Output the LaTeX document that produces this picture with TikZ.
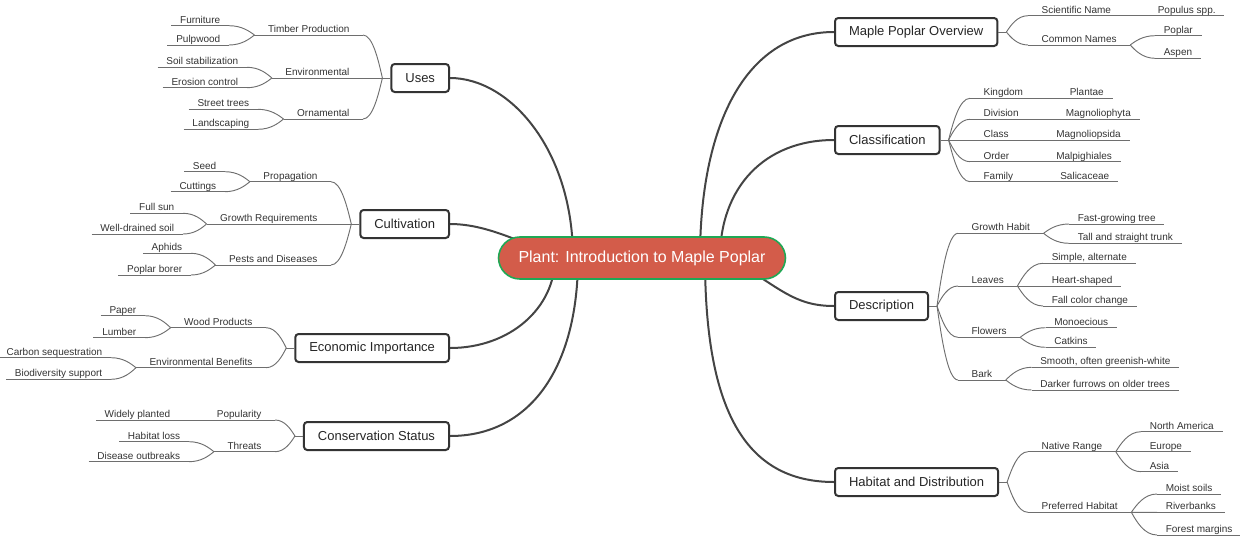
\documentclass[tikz,border=0pt]{standalone}
\usepackage{fontspec}
\setmainfont{Liberation Sans}
\usepackage{xcolor}
\usetikzlibrary{positioning, backgrounds, calc}
\definecolor{hubfill}{HTML}{D35C4A}
\definecolor{hubline}{HTML}{1FA855}
\definecolor{boxline}{HTML}{333333}
\definecolor{boughc}{HTML}{444444}
\definecolor{twigc}{HTML}{6E6E6E}
\definecolor{inkc}{HTML}{333333}
\tikzstyle{twig} = [draw=twigc, line width=0.7pt]
\tikzstyle{bough} = [draw=boughc, line width=1.5pt]
\tikzstyle{hub} = [rectangle, rounded corners=16pt, minimum height=31.5pt, inner xsep=15pt, draw=hubline, line width=1.2pt, fill=hubfill, text=white, font=\fontsize{12}{14}\selectfont]
\tikzstyle{topic} = [rectangle, rounded corners=2.5pt, minimum height=21pt, inner xsep=10.5pt, draw=boxline, line width=1.5pt, fill=white, text=black!85, font=\fontsize{9.75}{12}\selectfont]
\tikzstyle{lbl} = [inner ysep=0.2pt, text depth=1.6pt, text=inkc, font=\fontsize{7.5}{9}\selectfont, append after command={(\tikzlastnode.south west) edge[twig] (\tikzlastnode.south east)}]
\tikzstyle{subL} = [lbl, anchor=south east, inner xsep=10pt]
\tikzstyle{subR} = [lbl, anchor=south west, inner xsep=10pt]
\tikzstyle{leafL} = [lbl, anchor=south east, inner xsep=6.4pt]
\tikzstyle{leafR} = [lbl, anchor=south west, inner xsep=6.4pt]
\tikzstyle{sprout} = [to path={let \p1=(\tikztostart), \p2=(\tikztotarget) in .. controls (0.8*\x1+0.2*\x2, 0.6*\y1+0.4*\y2) and (0.5*\x1+0.5*\x2, \y2) .. (\tikztotarget)}]

\begin{document}
\begin{tikzpicture}[x=0.75pt, y=0.75pt]
    \useasboundingbox (0,0) rectangle (1240,-536);

    % Central topic
    \node (c) [hub] at (642,-258) {Plant: Introduction to Maple Poplar};

    % Main topics
    \node (uses) [topic, anchor=east] at (450,-78) {Uses};
    \node (cult) [topic, anchor=east] at (450,-224) {Cultivation};
    \node (econ) [topic, anchor=east] at (450,-348) {Economic Importance};
    \node (cons) [topic, anchor=east] at (450,-436) {Conservation Status};
    \node (over) [topic, anchor=west] at (834,-32) {Maple Poplar Overview};
    \node (clas) [topic, anchor=west] at (834,-140) {Classification};
    \node (desc) [topic, anchor=west] at (834,-306) {Description};
    \node (habi) [topic, anchor=west] at (834,-482) {Habitat and Distribution};

    % Junctions
    \coordinate (usesJ) at ($(uses.west)+(-8,0)$);
    \coordinate (cultJ) at ($(cult.west)+(-8,0)$);
    \coordinate (econJ) at ($(econ.west)+(-8,0)$);
    \coordinate (consJ) at ($(cons.west)+(-8,0)$);
    \coordinate (overJ) at ($(over.east)+(8,0)$);
    \coordinate (clasJ) at ($(clas.east)+(8,0)$);
    \coordinate (descJ) at ($(desc.east)+(8,0)$);
    \coordinate (habiJ) at ($(habi.east)+(8,0)$);

    % Uses
    \node (timber) [subL] at (363,-35) {Timber Production};
    \node (envir) [subL] at (363,-78) {Environmental};
    \node (ornam) [subL] at (363,-119) {Ornamental};
    \node (furn) [leafL] at (229,-25.7) {Furniture};
    \node (pulp) [leafL] at (229,-45) {Pulpwood};
    \node (soil) [leafL] at (247,-67.3) {Soil stabilization};
    \node (eros) [leafL] at (247,-87.7) {Erosion control};
    \node (street) [leafL] at (258,-109.3) {Street trees};
    \node (landsc) [leafL] at (258,-129.3) {Landscaping};

    % Cultivation
    \node (prop) [subL] at (331,-181.7) {Propagation};
    \node (growreq) [subL] at (331,-224) {Growth Requirements};
    \node (pests) [subL] at (331,-265) {Pests and Diseases};
    \node (seed) [leafL] at (225,-171.7) {Seed};
    \node (cutt) [leafL] at (225,-191.7) {Cuttings};
    \node (fullsun) [leafL] at (183,-213.3) {Full sun};
    \node (welldr) [leafL] at (183,-234) {Well-drained soil};
    \node (aphids) [leafL] at (191,-253.3) {Aphids};
    \node (borer) [leafL] at (191,-275) {Poplar borer};

    % Economic Importance
    \node (wood) [subL] at (266,-327.7) {Wood Products};
    \node (envben) [subL] at (266,-367.7) {Environmental Benefits};
    \node (paper) [leafL] at (145,-315.7) {Paper};
    \node (lumber) [leafL] at (145,-337.7) {Lumber};
    \node (carbon) [leafL] at (111,-357.7) {Carbon sequestration};
    \node (biodiv) [leafL] at (111,-379.3) {Biodiversity support};

    % Conservation Status
    \node (popul) [subL] at (275,-420) {Popularity};
    \node (threats) [subL] at (275,-451.7) {Threats};
    \node (widely) [leafL] at (179,-420) {Widely planted};
    \node (habloss) [leafL] at (189,-441.7) {Habitat loss};
    \node (disease) [leafL] at (189,-461.7) {Disease outbreaks};

    % Maple Poplar Overview
    \node (sciname) [subR] at (1028,-15.7) {Scientific Name};
    \node (comname) [subR] at (1028,-45) {Common Names};
    \node (populus) [leafR] at (1149,-15.7) {Populus spp.};
    \node (poplar) [leafR] at (1155,-35.7) {Poplar};
    \node (aspen) [leafR] at (1155,-58.3) {Aspen};

    % Classification
    \node (kingdom) [subR] at (970,-98.3) {Kingdom};
    \node (division) [subR] at (970,-119.3) {Division};
    \node (class) [subR] at (970,-140) {Class};
    \node (order) [subR] at (970,-161.7) {Order};
    \node (family) [subR] at (970,-181.7) {Family};
    \node (plantae) [leafR] at (1061,-98.3) {Plantae};
    \node (magphyta) [leafR] at (1057,-119.3) {Magnoliophyta};
    \node (magpsida) [leafR] at (1047.5,-140) {Magnoliopsida};
    \node (malpig) [leafR] at (1047.5,-161.7) {Malpighiales};
    \node (salic) [leafR] at (1051.5,-181.7) {Salicaceae};

    % Description
    \node (habit) [subR] at (958,-233.3) {Growth Habit};
    \node (leaves) [subR] at (958,-286) {Leaves};
    \node (flowers) [subR] at (958,-337.3) {Flowers};
    \node (bark) [subR] at (958,-380) {Bark};
    \node (fastgrow) [leafR] at (1069,-224) {Fast-growing tree};
    \node (tall) [leafR] at (1069,-243.3) {Tall and straight trunk};
    \node (simple) [leafR] at (1043,-263.3) {Simple, alternate};
    \node (heart) [leafR] at (1043,-286) {Heart-shaped};
    \node (fall) [leafR] at (1043,-306) {Fall color change};
    \node (monoec) [leafR] at (1045.5,-327.7) {Monoecious};
    \node (catkins) [leafR] at (1045.5,-347.3) {Catkins};
    \node (smooth) [leafR] at (1031.5,-367.3) {Smooth, often greenish-white};
    \node (darker) [leafR] at (1031.5,-390) {Darker furrows on older trees};

    % Habitat and Distribution
    \node (native) [subR] at (1028,-451.7) {Native Range};
    \node (prefer) [subR] at (1028,-512.3) {Preferred Habitat};
    \node (namer) [leafR] at (1141,-431.7) {North America};
    \node (europe) [leafR] at (1141,-451.7) {Europe};
    \node (asia) [leafR] at (1141,-471.7) {Asia};
    \node (moist) [leafR] at (1157,-494) {Moist soils};
    \node (river) [leafR] at (1157,-512.3) {Riverbanks};
    \node (forest) [leafR] at (1157,-535) {Forest margins};

    % Main branches
    \begin{scope}[on background layer]
        \draw [bough] ($(c)+(-69,0)$) .. controls +(0,108) and +(60,0) .. (uses.east);
        \draw [bough] ($(c)+(-60,0)$) .. controls +(-40,0) and +(50,0) .. (cult.east);
        \draw [bough] ($(c)+(-87,0)$) .. controls +(0,-50) and +(60,0) .. (econ.east);
        \draw [bough] ($(c)+(-64,0)$) .. controls +(0,-110) and +(80,0) .. (cons.east);
        \draw [bough] ($(c)+(58,0)$) .. controls +(0,130) and +(-90,0) .. (over.west);
        \draw [bough] ($(c)+(78,0)$) .. controls +(0,70) and +(-70,0) .. (clas.west);
        \draw [bough] ($(c)+(88,0)$) .. controls +(50,-30) and +(-40,0) .. (desc.west);
        \draw [bough] ($(c)+(63,0)$) .. controls +(0,-150) and +(-90,0) .. (habi.west);
    \end{scope}

    % Stubs
    \draw [twig] (uses.west) -- (usesJ);
    \draw [twig] (cult.west) -- (cultJ);
    \draw [twig] (econ.west) -- (econJ);
    \draw [twig] (cons.west) -- (consJ);
    \draw [twig] (over.east) -- (overJ);
    \draw [twig] (clas.east) -- (clasJ);
    \draw [twig] (desc.east) -- (descJ);
    \draw [twig] (habi.east) -- (habiJ);

    % Left twigs
    \draw [twig] (usesJ) to[sprout] (timber.south east);
    \draw [twig] (usesJ) -- (envir.south east);
    \draw [twig] (usesJ) to[sprout] (ornam.south east);
    \draw [twig] (timber.south west) to[sprout] (furn.south east);
    \draw [twig] (timber.south west) to[sprout] (pulp.south east);
    \draw [twig] (envir.south west) to[sprout] (soil.south east);
    \draw [twig] (envir.south west) to[sprout] (eros.south east);
    \draw [twig] (ornam.south west) to[sprout] (street.south east);
    \draw [twig] (ornam.south west) to[sprout] (landsc.south east);
    \draw [twig] (cultJ) to[sprout] (prop.south east);
    \draw [twig] (cultJ) -- (growreq.south east);
    \draw [twig] (cultJ) to[sprout] (pests.south east);
    \draw [twig] (prop.south west) to[sprout] (seed.south east);
    \draw [twig] (prop.south west) to[sprout] (cutt.south east);
    \draw [twig] (growreq.south west) to[sprout] (fullsun.south east);
    \draw [twig] (growreq.south west) to[sprout] (welldr.south east);
    \draw [twig] (pests.south west) to[sprout] (aphids.south east);
    \draw [twig] (pests.south west) to[sprout] (borer.south east);
    \draw [twig] (econJ) to[sprout] (wood.south east);
    \draw [twig] (econJ) to[sprout] (envben.south east);
    \draw [twig] (wood.south west) to[sprout] (paper.south east);
    \draw [twig] (wood.south west) to[sprout] (lumber.south east);
    \draw [twig] (envben.south west) to[sprout] (carbon.south east);
    \draw [twig] (envben.south west) to[sprout] (biodiv.south east);
    \draw [twig] (consJ) to[sprout] (popul.south east);
    \draw [twig] (consJ) to[sprout] (threats.south east);
    \draw [twig] (popul.south west) -- (widely.south east);
    \draw [twig] (threats.south west) to[sprout] (habloss.south east);
    \draw [twig] (threats.south west) to[sprout] (disease.south east);

    % Right twigs
    \draw [twig] (overJ) to[sprout] (sciname.south west);
    \draw [twig] (overJ) to[sprout] (comname.south west);
    \draw [twig] (sciname.south east) -- (populus.south west);
    \draw [twig] (comname.south east) to[sprout] (poplar.south west);
    \draw [twig] (comname.south east) to[sprout] (aspen.south west);
    \draw [twig] (clasJ) to[sprout] (kingdom.south west);
    \draw [twig] (clasJ) to[sprout] (division.south west);
    \draw [twig] (clasJ) -- (class.south west);
    \draw [twig] (clasJ) to[sprout] (order.south west);
    \draw [twig] (clasJ) to[sprout] (family.south west);
    \draw [twig] (kingdom.south east) -- (plantae.south west);
    \draw [twig] (division.south east) -- (magphyta.south west);
    \draw [twig] (class.south east) -- (magpsida.south west);
    \draw [twig] (order.south east) -- (malpig.south west);
    \draw [twig] (family.south east) -- (salic.south west);
    \draw [twig] (descJ) to[sprout] (habit.south west);
    \draw [twig] (descJ) to[sprout] (leaves.south west);
    \draw [twig] (descJ) to[sprout] (flowers.south west);
    \draw [twig] (descJ) to[sprout] (bark.south west);
    \draw [twig] (habit.south east) to[sprout] (fastgrow.south west);
    \draw [twig] (habit.south east) to[sprout] (tall.south west);
    \draw [twig] (leaves.south east) to[sprout] (simple.south west);
    \draw [twig] (leaves.south east) -- (heart.south west);
    \draw [twig] (leaves.south east) to[sprout] (fall.south west);
    \draw [twig] (flowers.south east) to[sprout] (monoec.south west);
    \draw [twig] (flowers.south east) to[sprout] (catkins.south west);
    \draw [twig] (bark.south east) to[sprout] (smooth.south west);
    \draw [twig] (bark.south east) to[sprout] (darker.south west);
    \draw [twig] (habiJ) to[sprout] (native.south west);
    \draw [twig] (habiJ) to[sprout] (prefer.south west);
    \draw [twig] (native.south east) to[sprout] (namer.south west);
    \draw [twig] (native.south east) -- (europe.south west);
    \draw [twig] (native.south east) to[sprout] (asia.south west);
    \draw [twig] (prefer.south east) to[sprout] (moist.south west);
    \draw [twig] (prefer.south east) to[sprout] (river.south west);
    \draw [twig] (prefer.south east) to[sprout] (forest.south west);

\end{tikzpicture}
\end{document}
